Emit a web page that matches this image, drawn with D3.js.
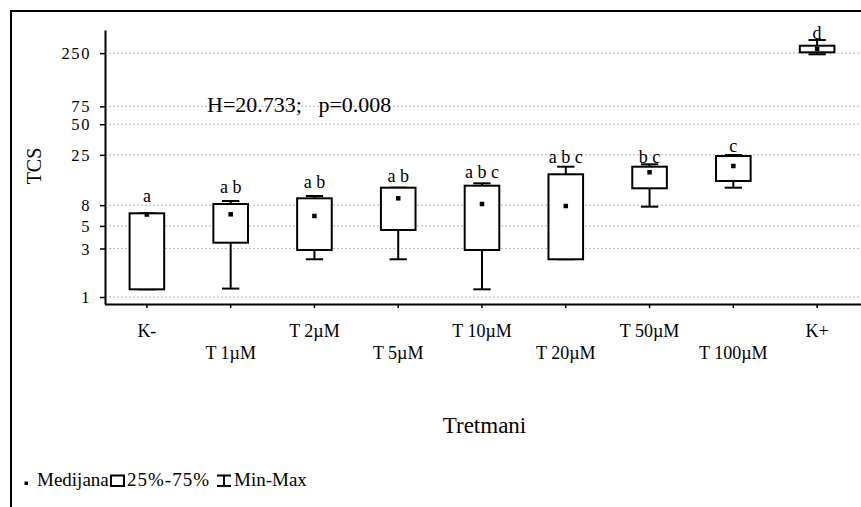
<!DOCTYPE html>
<html>
<head>
<meta charset="utf-8">
<script src="https://cdn.jsdelivr.net/npm/d3@7"></script>
<style>
  html, body { margin: 0; padding: 0; background: #fff; }
  svg { display: block; }
  svg text { font-family: "Liberation Serif", "DejaVu Serif", serif; fill: #000; }
</style>
</head>
<body>
<div id="chart"></div>
<script>
// ---- data ----
const categories = ["K-", "T 1µM", "T 2µM", "T 5µM", "T 10µM", "T 20µM", "T 50µM", "T 100µM", "K+"];
const minVals    = [1.19, 1.21, 2.35, 2.35, 1.19, 2.35, 7.73, 11.88, 243.5];
const q1Vals     = [1.19, 3.42, 2.90, 4.56, 2.90, 2.35, 11.72, 13.82, 254.7];
const medianVals = [6.47, 6.5, 6.26, 9.34, 8.21, 7.85, 16.84, 19.42, 274.5];
const q3Vals     = [6.65, 8.21, 9.34, 11.88, 12.43, 16.09, 19.11, 24.34, 295.8];
const maxVals    = [6.65, 8.79, 9.84, 11.88, 13.12, 19.11, 20.17, 24.9, 336.5];
const groupLetters = ["a", "a b", "a b", "a b", "a b c", "a b c", "b c", "c", "d"];
const letterAt   = [8.65, 10.46, 11.72, 13.61, 14.70, 20.64, 20.92, 26.84, 344.3];
const yTicks     = [1, 3, 5, 8, 25, 50, 75, 250];
const statText   = "H=20.733;   p=0.008";
const yTitle = "TCS";
const xTitle = "Tretmani";
const legendLabels = ["Medijana", "25%-75%", "Min-Max"];

// ---- layout ----
const W = 861, H = 507;
const FONT = "Liberation Serif, DejaVu Serif, serif";
const svg = d3.select("#chart").append("svg").attr("width", W).attr("height", H);

// outer frame (cropped on right/bottom)
svg.append("rect").attr("x", 11).attr("y", 11).attr("width", 1000).attr("height", 1000)
  .attr("fill", "none").attr("stroke", "#000").attr("stroke-width", 2);

const plotLeft = 105, plotRight = 859, plotTop = 30, plotBottom = 304;

const y = d3.scaleLog().domain([0.8535, 422.1]).range([plotBottom, plotTop]);
const x = d3.scaleBand().domain(categories).range([plotLeft, plotRight]).padding(0);
const cx = d => x(d) + x.bandwidth() / 2;
const boxW = x.bandwidth() * 0.413;
const capW = boxW / 2;

// gridlines
svg.append("g").selectAll("line").data(yTicks).join("line")
  .attr("x1", plotLeft).attr("x2", W)
  .attr("y1", d => y(d)).attr("y2", d => y(d))
  .attr("stroke", "#b4b4b4").attr("stroke-width", 1).attr("stroke-dasharray", "2,2");

// y axis
const yAxis = svg.append("g").attr("transform", `translate(${plotLeft},0)`)
  .call(d3.axisLeft(y).tickValues(yTicks).tickFormat(d3.format("d")).tickSize(5).tickSizeOuter(0).tickPadding(9));
yAxis.attr("font-family", FONT).attr("font-size", 16);
yAxis.select(".domain").attr("stroke-width", 2);
yAxis.selectAll(".tick line").attr("stroke-width", 1.5);
yAxis.selectAll(".tick text").attr("font-size", 16.5).attr("letter-spacing", "1.6px")
  .attr("dy", "0.34em").attr("fill", "#000");

// x axis
const xAxis = svg.append("g").attr("transform", `translate(0,${plotBottom})`)
  .call(d3.axisBottom(x).tickSize(4).tickSizeOuter(0).tickFormat(""));
xAxis.select(".domain").attr("stroke-width", 2).attr("d", `M${plotLeft},0.5H${W}`);
xAxis.selectAll(".tick line").attr("stroke-width", 1.5);

// staggered category labels
svg.append("g").selectAll("text").data(categories).join("text")
  .attr("x", d => cx(d))
  .attr("y", (d, i) => i % 2 === 0 ? 337 : 359)
  .attr("text-anchor", "middle").attr("font-size", 18)
  .text(d => d);

// boxes
const idx = d3.range(categories.length);
const g = svg.append("g");
// whiskers
g.selectAll("line.wh").data(idx).join("line").attr("class", "wh")
  .attr("x1", i => cx(categories[i])).attr("x2", i => cx(categories[i]))
  .attr("y1", i => y(minVals[i])).attr("y2", i => y(maxVals[i]))
  .attr("stroke", "#000").attr("stroke-width", 2);
// caps
[minVals, maxVals].forEach(arr => {
  g.append("g").selectAll("line").data(idx).join("line")
    .attr("x1", i => cx(categories[i]) - capW / 2).attr("x2", i => cx(categories[i]) + capW / 2)
    .attr("y1", i => y(arr[i])).attr("y2", i => y(arr[i]))
    .attr("stroke", "#000").attr("stroke-width", 2);
});
// boxes
g.selectAll("rect.box").data(idx).join("rect").attr("class", "box")
  .attr("x", i => cx(categories[i]) - boxW / 2)
  .attr("width", boxW)
  .attr("y", i => y(q3Vals[i]))
  .attr("height", i => y(q1Vals[i]) - y(q3Vals[i]))
  .attr("fill", "#fff").attr("stroke", "#000").attr("stroke-width", 2);
// medians
const ms = 4.5;
g.selectAll("rect.med").data(idx).join("rect").attr("class", "med")
  .attr("x", i => cx(categories[i]) - ms / 2)
  .attr("y", i => y(medianVals[i]) - ms / 2)
  .attr("width", ms).attr("height", ms).attr("fill", "#000");
// group letters
g.selectAll("text.lt").data(idx).join("text").attr("class", "lt")
  .attr("x", i => cx(categories[i]))
  .attr("y", i => y(letterAt[i]))
  .attr("text-anchor", "middle").attr("font-size", 18)
  .style("white-space", "pre")
  .text(i => groupLetters[i]);

// stat text
svg.append("text").attr("x", 207).attr("y", 112).attr("font-size", 22)
  .style("white-space", "pre").text(statText);

// axis titles
svg.append("text").attr("transform", "translate(40.5,166) rotate(-90)")
  .attr("text-anchor", "middle").attr("font-size", 20).text(yTitle);
svg.append("text").attr("x", 484.5).attr("y", 433).attr("text-anchor", "middle")
  .attr("font-size", 23).text(xTitle);

// legend
const lg = svg.append("g");
const lb = 486;
lg.append("rect").attr("x", 24.5).attr("y", 481.5).attr("width", 3.5).attr("height", 3.5).attr("fill", "#000");
lg.append("text").attr("x", 37).attr("y", lb).attr("font-size", 19).text(legendLabels[0]);
lg.append("rect").attr("x", 111).attr("y", 475.5).attr("width", 13).attr("height", 10.5)
  .attr("fill", "#fff").attr("stroke", "#000").attr("stroke-width", 2);
lg.append("text").attr("x", 127).attr("y", lb).attr("font-size", 19).attr("letter-spacing", "1px").text(legendLabels[1]);
lg.append("line").attr("x1", 217).attr("x2", 231).attr("y1", 475.5).attr("y2", 475.5).attr("stroke", "#000").attr("stroke-width", 2);
lg.append("line").attr("x1", 217).attr("x2", 231).attr("y1", 486).attr("y2", 486).attr("stroke", "#000").attr("stroke-width", 2);
lg.append("line").attr("x1", 224).attr("x2", 224).attr("y1", 475.5).attr("y2", 486).attr("stroke", "#000").attr("stroke-width", 2);
lg.append("text").attr("x", 234).attr("y", lb).attr("font-size", 19).text(legendLabels[2]);

// enforce serif font on every text
svg.selectAll("text").attr("font-family", FONT);
</script>
</body>
</html>
